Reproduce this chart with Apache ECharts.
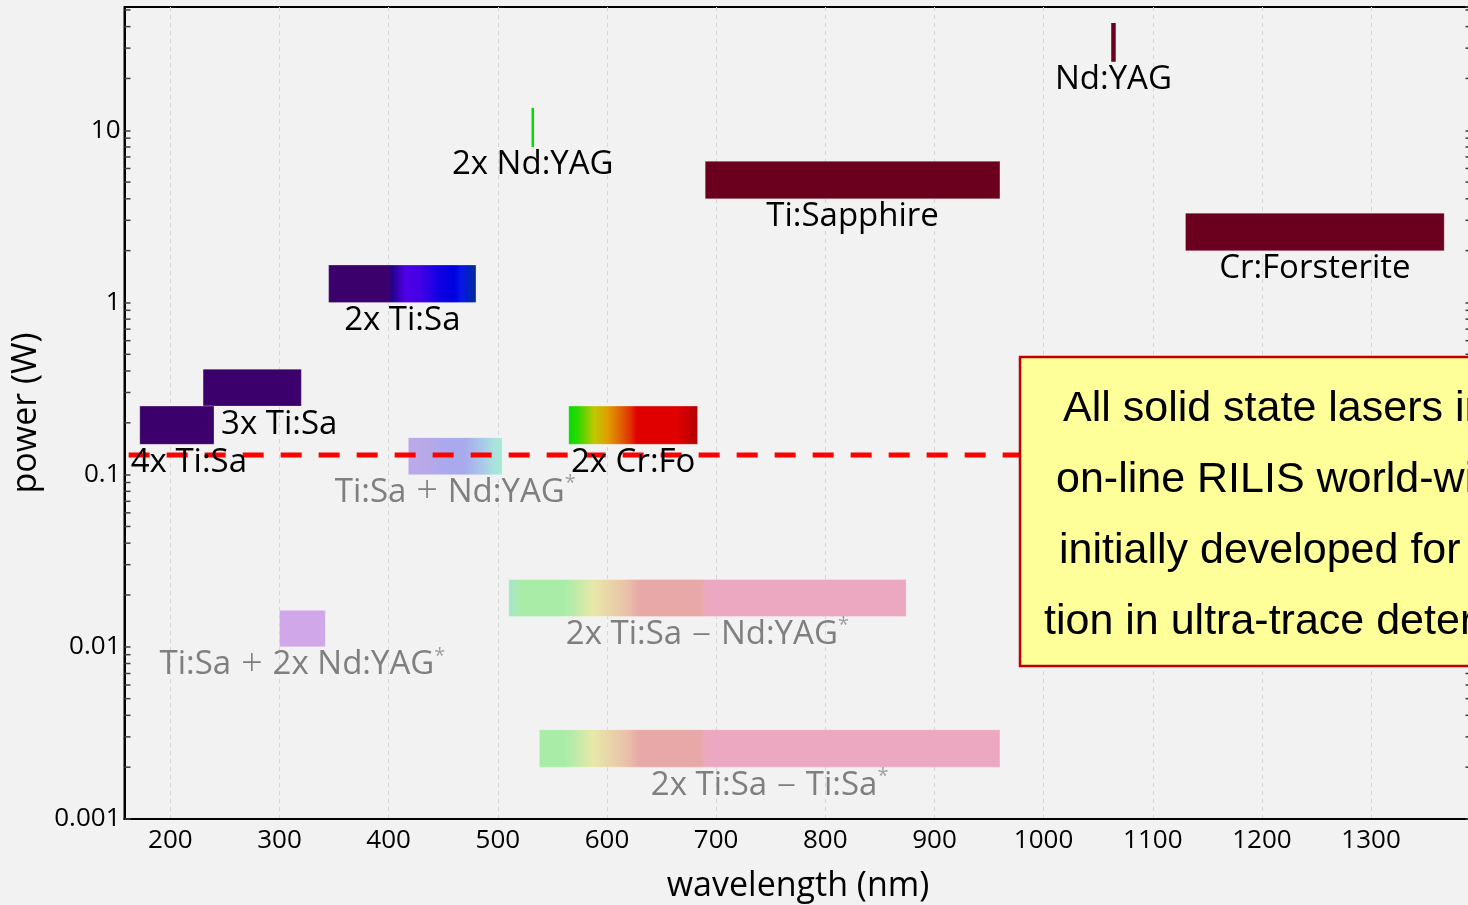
<!DOCTYPE html>
<html>
<head>
<meta charset="utf-8">
<title>RILIS solid state lasers</title>
<script src="https://cdn.jsdelivr.net/npm/echarts@6.0.0/dist/echarts.min.js"></script>
<style>
	html, body { margin:0; padding:0; background:#f2f2f2; overflow:hidden; }
	#chartDiv { width:1480px; height:905px; }
</style>
</head>
<body>
<div id="chartDiv"></div>
<script type="text/javascript">
	// laser ranges: wavelength (nm) from/to, power (W) min/max
	var names      = ['Nd:YAG', '2x Nd:YAG', 'Ti:Sapphire', 'Cr:Forsterite', '2x Ti:Sa', '3x Ti:Sa', '4x Ti:Sa', 'Ti:Sa + Nd:YAG', '2x Cr:Fo', 'Ti:Sa + 2x Nd:YAG', '2x Ti:Sa \u2013 Nd:YAG', '2x Ti:Sa \u2013 Ti:Sa'];
	var lambdaFrom = [1064, 532, 690, 1130, 345, 230, 172, 418, 565, 300, 510, 538];
	var lambdaTo   = [1064, 532, 960, 1367, 480, 320, 240, 504, 683, 342, 874, 960];
	var powerMin   = [25, 8, 4, 2, 1.0, 0.25, 0.15, 0.1, 0.15, 0.01, 0.015, 0.002];
	var powerMax   = [42, 13.5, 6.6, 3.3, 1.65, 0.41, 0.25, 0.164, 0.25, 0.0163, 0.0246, 0.0033];
	var isProposed = [false, false, false, false, false, false, false, true, false, true, true, true];
	var rilisLimit = 0.13;
	var yTickValues = [0.001, 0.01, 0.1, 1, 10];
	var yTickLabels = ['0.001', '0.01', '0.1', '1', '10'];
	var boxLines = ['All solid state lasers in', 'on-line RILIS world-wide,', 'initially developed for', 'tion in ultra-trace determination'];

	var xMin = 158, xMax = 1392, yMin = 0.001, yMax = 52;

	// styles
	var dark = '#6b001e';
	var pastel = [[510,'#a8e6cc'],[522,'#a8eca8'],[562,'#a8eca8'],[588,'#e8e8a8'],[619,'#e8c0a8'],[630,'#e8a8a8'],[687,'#e8a8a8'],[690,'#eca8c0'],[960,'#eca8c0']];
	var fills = {
		'Nd:YAG' : dark,
		'2x Nd:YAG' : '#00dd00',
		'Ti:Sapphire' : dark,
		'Cr:Forsterite' : dark,
		'2x Ti:Sa' : [[0,'#3b006b'],[0.405,'#3b006b'],[0.43,'#22008c'],[0.52,'#5000e6'],[0.62,'#4400e6'],[0.75,'#1000e4'],[0.85,'#0000e0'],[0.9,'#0818e8'],[0.95,'#0020c0'],[1,'#003090']],
		'3x Ti:Sa' : '#3b006b',
		'4x Ti:Sa' : '#3b006b',
		'Ti:Sa + Nd:YAG' : [[0,'#bca8e8'],[0.2,'#b8a8e8'],[0.4,'#aaa8ee'],[0.6,'#a8aaec'],[0.78,'#a8c8e8'],[0.9,'#a8e0e0'],[1,'#a8ecd0']],
		'2x Cr:Fo' : [[0,'#00dd00'],[0.075,'#30d800'],[0.2,'#c0c800'],[0.3,'#e0a000'],[0.38,'#e07000'],[0.48,'#e03000'],[0.53,'#e00000'],[0.84,'#e00000'],[0.95,'#c00000'],[1,'#b00000']],
		'Ti:Sa + 2x Nd:YAG' : '#d0a8ea'
	};
	var lineWidths = { 'Nd:YAG' : 4.5, '2x Nd:YAG' : 2.5 };
	var labelShift = { '3x Ti:Sa' : 27, '4x Ti:Sa' : 12 };
	var labelFont = '"Open Sans", "Noto Sans", sans-serif';

	function pastelFor(from, to) {
		var stops = [], before = null, after = null;
		for (var k = 0; k < pastel.length; k++) {
			var f = (pastel[k][0] - from) / (to - from);
			if (f < 0) { before = pastel[k][1]; }
			else if (f > 1) { if (!after) after = pastel[k][1]; }
			else { stops.push([f, pastel[k][1]]); }
		}
		if (before && (!stops.length || stops[0][0] > 0)) stops.unshift([0, before]);
		if (after && stops[stops.length - 1][0] < 1) stops.push([1, after]);
		return stops;
	}

	function fillFor(i) {
		var f = fills[names[i]];
		if (!f) f = pastelFor(lambdaFrom[i], lambdaTo[i]);
		if (typeof f === 'string') return f;
		return new echarts.graphic.LinearGradient(0, 0, 1, 0, f.map(function(s){
			return { offset : s[0], color : s[1] };
		}));
	}

	var barData = names.map(function(n, i){
		return [lambdaFrom[i], lambdaTo[i], powerMin[i], powerMax[i]];
	});

	var minorTicks = [];
	for (var e = -3; e <= 1; e++) {
		for (var m = 2; m <= 9; m++) {
			var v = m * Math.pow(10, e);
			if (v < yMax) minorTicks.push([xMin, v]);
		}
	}

	function renderBar(params, api) {
		var i = params.dataIndex;
		var p0 = api.coord([api.value(0), api.value(3)]);
		var p1 = api.coord([api.value(1), api.value(2)]);
		var x = p0[0], w = p1[0] - p0[0];
		var lw = lineWidths[names[i]];
		if (lw) { x = (p0[0] + p1[0]) / 2 - lw / 2; w = lw; }
		return {
			type : 'rect',
			shape : { x : x, y : p0[1], width : w, height : p1[1] - p0[1] },
			style : { fill : fillFor(i), stroke : lw ? null : 'rgba(255,255,255,0.25)', lineWidth : 1 }
		};
	}

	// grey labels: wider operator (+ / –) and a raised asterisk
	function greyText(name) {
		return name.replace(/ ([+\u2013]) /, '{o| $1 }').replace(/^([^{]*)/, '{m|$1}').replace(/\}([^{}]+)$/, '}{m|$1}') + '{s|*}';
	}

	function renderLabel(params, api) {
		var i = params.dataIndex;
		var p0 = api.coord([api.value(0), api.value(3)]);
		var p1 = api.coord([api.value(1), api.value(2)]);
		var cx = (p0[0] + p1[0]) / 2 + (labelShift[names[i]] || 0);
		var grey = isProposed[i];
		return {
			type : 'text',
			style : {
				text : grey ? greyText(names[i]) : names[i],
				x : cx,
				y : p1[1] + 18,
				align : 'center',
				verticalAlign : 'middle',
				fill : grey ? '#7f7f7f' : '#000',
				fontSize : 33,
				fontFamily : labelFont,
				rich : {
					m : { fontSize : 33, fontFamily : labelFont, fill : '#7f7f7f' },
					o : { fontSize : 38, fontFamily : labelFont, fill : '#7f7f7f', fontWeight : 300 },
					s : { fontSize : 20, fontFamily : labelFont, fill : '#a0a0a0', verticalAlign : 'top', padding : [0, 0, 14, 0] }
				}
			}
		};
	}

	function renderMinor(params, api) {
		var v = api.value(1);
		var pl = api.coord([xMin, v]);
		var pr = api.coord([xMax, v]);
		var st = { stroke : '#404040', lineWidth : 1.5 };
		return {
			type : 'group',
			children : [
				{ type : 'line', shape : { x1 : pl[0], y1 : pl[1], x2 : pl[0] + 6, y2 : pl[1] }, style : st },
				{ type : 'line', shape : { x1 : pr[0] - 6, y1 : pr[1], x2 : pr[0], y2 : pr[1] }, style : st }
			]
		};
	}

	var yLabel = function(value) {
		for (var k = 0; k < yTickValues.length; k++) {
			if (Math.abs(Math.log10(value) - Math.log10(yTickValues[k])) < 1e-6) return yTickLabels[k];
		}
		return '';
	};

	var boxGraphics = [{
		type : 'rect',
		shape : { x : 1020, y : 357, width : 480, height : 309 },
		style : { fill : '#ffff99', stroke : '#c00000', lineWidth : 2.5 },
		z : 100
	}];
	var boxLeft = [1063, 1056, 1059, 1044];
	var boxY = [409, 480, 551, 622];
	boxLines.forEach(function(t, k){
		boxGraphics.push({
			type : 'text',
			x : boxLeft[k],
			y : boxY[k],
			style : { text : t, fill : '#000', font : '43px "Liberation Sans", Arial, sans-serif', align : 'left', verticalAlign : 'middle' },
			z : 101
		});
	});

	var myChart = echarts.init(document.getElementById('chartDiv'));
	myChart.setOption({
		backgroundColor : '#f2f2f2',
		animation : false,
		grid : {
			left : 124.5, right : 8.5, top : 7, bottom : 86,
			outerBoundsMode : 'none',
			show : true, borderColor : '#000', borderWidth : 2, backgroundColor : 'transparent'
		},
		xAxis : {
			type : 'value',
			min : xMin,
			max : xMax,
			splitNumber : 12,
			name : 'wavelength (nm)',
			nameLocation : 'middle',
			nameGap : 50,
			nameTextStyle : { fontSize : 34, color : '#000', fontFamily : labelFont },
			axisLine : { lineStyle : { color : '#000', width : 2 } },
			axisTick : { show : false },
			axisLabel : {
				fontSize : 26, color : '#000', fontFamily : labelFont, margin : 9,
				showMinLabel : false, showMaxLabel : false,
				formatter : function(value) { return String(value); }
			},
			splitLine : { show : true, lineStyle : { color : '#d6d6d6', width : 1, type : [4, 4] } }
		},
		yAxis : [{
			type : 'log',
			logBase : 10,
			min : yMin,
			max : yMax,
			name : 'power (W)',
			nameLocation : 'middle',
			nameGap : 75,
			nameTextStyle : { fontSize : 34, color : '#000', fontFamily : labelFont },
			axisLine : { show : true, lineStyle : { color : '#000', width : 2 } },
			axisTick : { show : true, inside : true, length : 6, lineStyle : { color : '#404040', width : 1.5 } },
			axisLabel : { fontSize : 26, color : '#000', fontFamily : labelFont, margin : 4, showMaxLabel : false, formatter : yLabel },
			splitLine : { show : false }
		}, {
			type : 'log',
			logBase : 10,
			min : yMin,
			max : yMax,
			position : 'right',
			axisLine : { show : false },
			axisTick : { show : true, inside : true, length : 6, lineStyle : { color : '#404040', width : 1.5 } },
			axisLabel : { show : false },
			splitLine : { show : false }
		}],
		series : [{
			type : 'custom',
			name : 'minor',
			renderItem : renderMinor,
			data : minorTicks,
			z : 1,
			silent : true
		}, {
			type : 'custom',
			name : 'lasers',
			renderItem : renderBar,
			encode : { x : [0, 1], y : [2, 3] },
			data : barData,
			z : 2
		}, {
			type : 'line',
			name : 'limit',
			data : [[161.8, rilisLimit], [985, rilisLimit]],
			symbol : 'none',
			lineStyle : { color : '#ff0000', width : 5, type : [21, 17], cap : 'butt' },
			z : 3
		}, {
			type : 'custom',
			name : 'labels',
			renderItem : renderLabel,
			encode : { x : [0, 1], y : [2, 3] },
			data : barData,
			z : 4
		}],
		graphic : boxGraphics
	});
</script>
</body>
</html>
